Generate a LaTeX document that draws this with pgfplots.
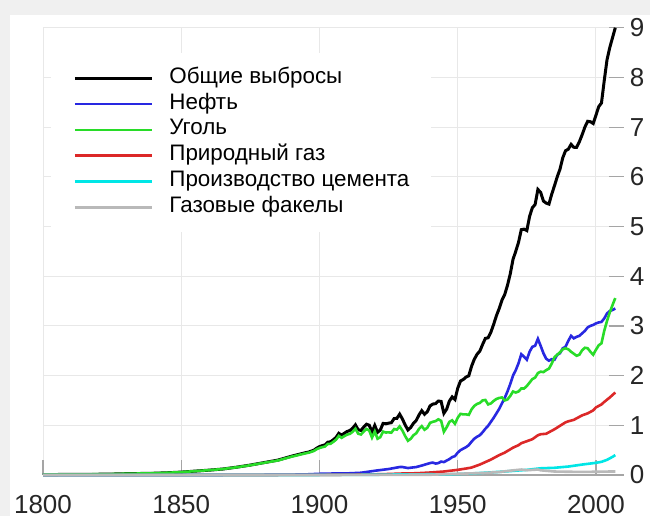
\documentclass[border=0pt]{standalone}
\usepackage{fontspec}
\setmainfont{Liberation Sans}
\usepackage{pgfplots}
\pgfplotsset{compat=1.18}
\definecolor{cblue}{RGB}{40,40,225}
\definecolor{cgreen}{RGB}{40,220,40}
\definecolor{cred}{RGB}{220,40,40}
\definecolor{ccyan}{RGB}{0,230,230}
\definecolor{cgrey}{RGB}{185,185,185}
\definecolor{gridc}{RGB}{232,232,232}
\definecolor{tickc}{RGB}{165,165,165}
\begin{document}
\begin{tikzpicture}
\fill[black!6] (0,0) rectangle (325pt,258pt);
\fill[white] (5pt,0) rectangle (325pt,250.5pt);
\begin{axis}[
  at={(21.5pt,20.5pt)}, anchor=south west,
  scale only axis, width=290.3pt, height=223.65pt,
  xmin=1800, xmax=2010, ymin=0, ymax=9,
  xtick={1800,1850,1900,1950,2000}, ytick={0,1,...,9},
  axis x line*=bottom, axis y line*=right,
  x axis line style={draw=tickc, line width=0.9pt},
  y axis line style={draw=none},
  tick align=inside, major tick length=7.5pt,
  tick style={tickc, line width=0.6pt},
  grid=major, major grid style={gridc, line width=0.5pt},
  /pgf/number format/assume math mode=true,
  /pgf/number format/1000 sep={},
  xticklabel style={font=\fontsize{13}{15}\selectfont, anchor=base, yshift=-19.2pt, inner sep=0pt, text=black!85},
  yticklabel style={font=\fontsize{13}{15}\selectfont, anchor=west, xshift=3pt, inner sep=0pt, text=black!85},
  clip=false,
  legend cell align=left,
  legend style={at={(0.0138,0.9435)}, anchor=north west, draw=none, fill=white,
    inner xsep=11pt, inner ysep=6pt, row sep=0pt,
    font=\fontsize{11.2}{12.9}\selectfont,
    nodes={inner sep=0pt, text height=9pt, text depth=3.9pt},
    /tikz/every odd column/.append style={column sep=8pt}},
  legend image code/.code={\draw[#1] (0pt,0pt) -- (38.5pt,0pt);},
]
% Total
\addplot[black, line width=1.5pt] coordinates {
(1800,0.009)(1805,0.010)(1810,0.011)(1815,0.013)(1820,0.015)(1825,0.019)(1830,0.026)(1835,0.030)(1840,0.035)(1845,0.045)
(1850,0.058)(1855,0.078)(1860,0.097)(1865,0.12)(1870,0.157)(1875,0.20)(1880,0.25)(1885,0.30)(1890,0.38)(1895,0.45)
(1896,0.46)(1897,0.48)(1898,0.50)(1899,0.54)
(1900,0.571)(1901,0.591)(1902,0.606)(1903,0.660)(1904,0.668)(1905,0.709)(1906,0.756)(1907,0.839)(1908,0.803)(1909,0.840)
(1910,0.876)(1911,0.895)(1912,0.941)(1913,1.009)(1914,0.910)(1915,0.897)(1916,0.964)(1917,1.022)(1918,1.002)(1919,0.862)
(1920,0.997)(1921,0.859)(1922,0.904)(1923,1.038)(1924,1.030)(1925,1.043)(1926,1.052)(1927,1.136)(1928,1.140)(1929,1.225)
(1930,1.127)(1931,1.006)(1932,0.906)(1933,0.956)(1934,1.041)(1935,1.099)(1936,1.209)(1937,1.294)(1938,1.222)(1939,1.275)
(1940,1.390)(1941,1.427)(1942,1.436)(1943,1.488)(1944,1.480)(1945,1.241)(1946,1.325)(1947,1.489)(1948,1.572)(1949,1.518)
(1950,1.744)(1951,1.891)(1952,1.921)(1953,1.970)(1954,1.996)(1955,2.186)(1956,2.329)(1957,2.429)(1958,2.493)(1959,2.626)
(1960,2.749)(1961,2.761)(1962,2.874)(1963,3.031)(1964,3.205)(1965,3.349)(1966,3.518)(1967,3.631)(1968,3.816)(1969,4.045)
(1970,4.337)(1971,4.503)(1972,4.682)(1973,4.937)(1974,4.947)(1975,4.918)(1976,5.204)(1977,5.378)(1978,5.443)(1979,5.745)
(1980,5.687)(1981,5.513)(1982,5.471)(1983,5.451)(1984,5.650)(1985,5.820)(1986,6.000)(1987,6.155)(1988,6.383)(1989,6.524)
(1990,6.556)(1991,6.652)(1992,6.595)(1993,6.593)(1994,6.705)(1995,6.846)(1996,7.000)(1997,7.117)(1998,7.108)(1999,7.073)
(2000,7.239)(2001,7.412)(2002,7.486)(2003,7.935)(2004,8.353)(2005,8.600)(2006,8.800)(2007,9.000)
};
\addlegendentry{Общие выбросы}
% Oil
\addplot[cblue, line width=1.3pt] coordinates {
(1800,0)(1860,0)(1870,0.002)(1880,0.004)(1890,0.008)(1895,0.012)(1900,0.024)(1905,0.03)(1910,0.032)(1915,0.045)
(1920,0.085)(1925,0.12)(1929,0.16)(1930,0.16)(1932,0.14)(1935,0.16)(1937,0.19)
(1940,0.24)(1941,0.25)(1942,0.23)(1943,0.24)(1944,0.27)(1945,0.26)(1946,0.29)(1947,0.32)(1948,0.36)(1949,0.38)
(1950,0.45)(1951,0.50)(1952,0.53)(1953,0.56)(1954,0.60)(1955,0.67)(1956,0.73)(1957,0.77)(1958,0.80)(1959,0.86)
(1960,0.93)(1961,0.99)(1962,1.07)(1963,1.15)(1964,1.24)(1965,1.33)(1966,1.44)(1967,1.55)(1968,1.68)(1969,1.83)
(1970,2.00)(1971,2.11)(1972,2.25)(1973,2.43)(1974,2.38)(1975,2.32)(1976,2.48)(1977,2.58)(1978,2.60)(1979,2.74)
(1980,2.60)(1981,2.45)(1982,2.34)(1983,2.30)(1984,2.33)(1985,2.32)(1986,2.42)(1987,2.45)(1988,2.55)(1989,2.58)
(1990,2.70)(1991,2.80)(1992,2.75)(1993,2.78)(1994,2.80)(1995,2.85)(1996,2.90)(1997,2.97)(1998,3.00)(1999,3.02)
(2000,3.05)(2001,3.07)(2002,3.08)(2003,3.15)(2004,3.25)(2005,3.30)(2006,3.32)(2007,3.35)
};
\addlegendentry{Нефть}
% Coal
\addplot[cgreen, line width=1.3pt] coordinates {
(1800,0.009)(1805,0.010)(1810,0.011)(1815,0.013)(1820,0.015)(1825,0.019)(1830,0.026)(1835,0.030)(1840,0.035)(1845,0.045)
(1850,0.058)(1855,0.078)(1860,0.097)(1865,0.12)(1870,0.155)(1875,0.197)(1880,0.246)(1885,0.293)(1890,0.37)(1895,0.437)
(1896,0.448)(1897,0.466)(1898,0.485)(1899,0.52)
(1900,0.543)(1901,0.560)(1902,0.573)(1903,0.624)(1904,0.628)(1905,0.667)(1906,0.711)(1907,0.787)(1908,0.748)(1909,0.782)
(1910,0.813)(1911,0.828)(1912,0.870)(1913,0.932)(1914,0.832)(1915,0.815)(1916,0.874)(1917,0.925)(1918,0.896)(1919,0.752)
(1920,0.875)(1921,0.730)(1922,0.761)(1923,0.873)(1924,0.855)(1925,0.858)(1926,0.852)(1927,0.925)(1928,0.913)(1929,0.978)
(1930,0.893)(1931,0.783)(1932,0.689)(1933,0.729)(1934,0.800)(1935,0.840)(1936,0.928)(1937,0.983)(1938,0.911)(1939,0.950)
(1940,1.050)(1941,1.070)(1942,1.085)(1943,1.120)(1944,1.090)(1945,0.870)(1946,0.960)(1947,1.070)(1948,1.100)(1949,1.030)
(1950,1.152)(1951,1.230)(1952,1.220)(1953,1.220)(1954,1.210)(1955,1.320)(1956,1.390)(1957,1.430)(1958,1.450)(1959,1.500)
(1960,1.510)(1961,1.420)(1962,1.440)(1963,1.490)(1964,1.530)(1965,1.550)(1966,1.560)(1967,1.500)(1968,1.520)(1969,1.590)
(1970,1.680)(1971,1.660)(1972,1.680)(1973,1.740)(1974,1.740)(1975,1.790)(1976,1.860)(1977,1.930)(1978,1.960)(1979,2.050)
(1980,2.080)(1981,2.070)(1982,2.110)(1983,2.140)(1984,2.240)(1985,2.370)(1986,2.420)(1987,2.470)(1988,2.530)(1989,2.550)
(1990,2.530)(1991,2.480)(1992,2.440)(1993,2.400)(1994,2.420)(1995,2.510)(1996,2.560)(1997,2.550)(1998,2.480)(1999,2.420)
(2000,2.520)(2001,2.610)(2002,2.650)(2003,2.900)(2004,3.100)(2005,3.270)(2006,3.420)(2007,3.560)
};
\addlegendentry{Уголь}
% Gas
\addplot[cred, line width=1.3pt] coordinates {
(1800,0)(1880,0)(1890,0.002)(1900,0.003)(1910,0.007)(1920,0.013)(1925,0.02)(1930,0.03)(1935,0.035)(1940,0.05)(1945,0.07)
(1950,0.104)(1953,0.13)(1955,0.15)(1958,0.21)(1960,0.26)(1962,0.31)(1965,0.40)(1967,0.45)(1970,0.55)(1972,0.60)(1973,0.64)
(1975,0.68)(1977,0.72)(1979,0.80)(1980,0.82)(1982,0.83)(1985,0.92)(1987,0.99)(1989,1.06)(1990,1.08)(1992,1.11)(1995,1.20)
(1997,1.24)(1999,1.30)(2000,1.36)(2002,1.42)(2003,1.47)(2005,1.56)(2006,1.61)(2007,1.66)
};
\addlegendentry{Природный газ}
% Cement
\addplot[ccyan, line width=1.3pt] coordinates {
(1800,0)(1900,0.001)(1920,0.005)(1928,0.010)(1930,0.011)(1935,0.012)(1940,0.015)(1945,0.010)(1950,0.019)(1955,0.030)
(1960,0.046)(1965,0.063)(1970,0.083)(1975,0.103)(1980,0.135)(1985,0.145)(1990,0.170)(1995,0.210)(2000,0.245)(2002,0.265)
(2004,0.305)(2005,0.335)(2006,0.365)(2007,0.400)
};
\addlegendentry{Производство цемента}
% Flaring
\addplot[cgrey, line width=1.3pt] coordinates {
(1800,0)(1900,0)(1940,0.005)(1950,0.025)(1955,0.033)(1960,0.042)(1965,0.06)(1970,0.093)(1973,0.11)(1975,0.096)(1979,0.11)
(1980,0.095)(1985,0.07)(1990,0.065)(1995,0.063)(2000,0.065)(2005,0.07)(2007,0.07)
};
\addlegendentry{Газовые факелы}
\end{axis}
\pgfresetboundingbox
\path[use as bounding box] (0,0) rectangle (325pt,258pt);
\end{tikzpicture}
\end{document}
